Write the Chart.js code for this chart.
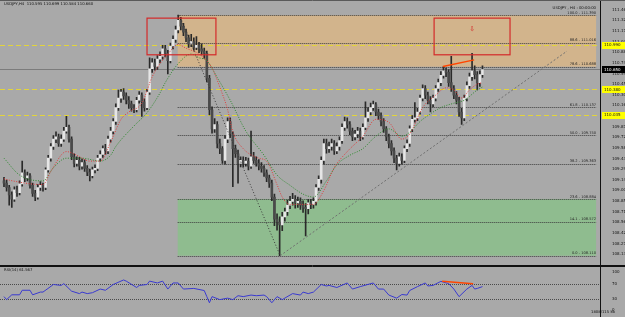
<!DOCTYPE html>
<html>
<head>
<meta charset="utf-8">
<script src="https://cdn.jsdelivr.net/npm/chart.js@4.4.0/dist/chart.umd.min.js"></script>
<style>
  html, body { margin: 0; padding: 0; background: #a9a9a9; overflow: hidden; }
  #wrap { position: relative; width: 625px; height: 317px; }
  canvas { position: absolute; left: 0; }
  #main { top: 0; }
  #rsi { top: 266px; }
</style>
</head>
<body>
<div id="wrap">
  <canvas id="main" width="625" height="266"></canvas>
  <canvas id="rsi" width="625" height="51"></canvas>
</div>
<script>
// USDJPY H4, 4 May 2018 00:00 .. 15 Jun 2018 16:00 (one entry per bar)
const firstOpen = 109.13;
const closes = [
  109.10,109.04,108.94,108.88,109.01,108.97,109.09,109.24,109.17,109.20,
  109.07,108.96,108.91,109.04,109.07,109.04,109.28,109.44,109.60,109.70,
  109.73,109.64,109.70,109.81,109.86,109.70,109.46,109.37,109.41,109.33,
  109.38,109.30,109.25,109.20,109.28,109.30,109.44,109.49,109.57,109.54,
  109.70,109.81,109.94,110.13,110.26,110.34,110.29,110.23,110.18,110.13,
  110.10,110.23,110.30,110.21,110.13,110.34,110.66,110.74,110.69,110.79,
  110.83,110.93,110.87,110.77,110.97,111.06,111.19,111.32,111.24,111.16,
  111.08,111.00,111.03,110.95,110.98,110.93,110.90,110.87,110.53,110.10,
  109.84,109.90,109.64,109.57,109.41,109.70,109.94,109.77,109.57,109.50,
  109.37,109.41,109.37,109.40,109.33,109.46,109.41,109.37,109.33,109.30,
  109.24,109.17,109.10,108.91,108.61,108.57,108.53,108.64,108.71,108.80,
  108.85,108.88,108.83,108.85,108.80,108.77,108.75,108.83,108.81,108.85,
  109.04,109.15,109.41,109.64,109.57,109.60,109.64,109.54,109.60,109.68,
  109.86,109.94,109.90,109.81,109.73,109.77,109.81,109.73,109.86,109.99,
  110.07,110.13,110.17,110.07,110.02,109.94,109.84,109.73,109.64,109.54,
  109.44,109.37,109.46,109.41,109.57,109.64,109.84,109.97,109.99,110.07,
  110.26,110.39,110.30,110.23,110.18,110.26,110.39,110.47,110.57,110.63,
  110.61,110.47,110.39,110.30,110.23,110.07,109.99,110.26,110.43,110.55,
  110.63,110.58,110.47,110.58,110.65
];
const highs = [
  109.18,109.14,109.07,108.98,109.05,109.06,109.13,109.40,109.28,109.25,
  109.23,109.10,109.00,109.08,109.12,109.10,109.31,109.48,109.64,109.75,
  109.80,109.77,109.76,109.86,110.01,109.89,109.73,109.50,109.46,109.45,
  109.43,109.42,109.34,109.29,109.32,109.35,109.48,109.54,109.61,109.63,
  109.74,109.86,109.98,110.18,110.37,110.38,110.39,110.33,110.28,110.22,
  110.17,110.27,110.35,110.33,110.25,110.38,110.81,110.80,110.79,110.84,
  110.89,110.98,110.98,110.91,111.01,111.11,111.24,111.39,111.36,111.28,
  111.20,111.12,111.13,111.08,111.10,111.02,111.00,110.94,110.90,110.57,
  110.14,109.98,109.94,109.70,109.60,109.75,109.99,109.99,109.80,109.62,
  109.55,109.46,109.46,109.45,109.44,109.81,109.52,109.46,109.42,109.38,
  109.34,109.28,109.21,109.14,108.95,108.68,108.64,108.70,108.76,108.87,
  108.92,108.96,108.93,108.91,108.90,108.86,108.82,108.88,108.88,108.90,
  109.08,109.20,109.46,109.70,109.70,109.66,109.70,109.68,109.65,109.73,
  109.91,110.00,109.99,109.94,109.85,109.82,109.86,109.85,109.91,110.21,
  110.13,110.19,110.22,110.20,110.11,110.06,109.98,109.87,109.77,109.68,
  109.58,109.48,109.51,109.50,109.61,109.69,109.88,110.02,110.20,110.12,
  110.30,110.44,110.43,110.34,110.28,110.30,110.43,110.52,110.62,110.69,
  110.67,110.65,110.83,110.43,110.35,110.27,110.12,110.30,110.48,110.60,
  110.87,110.70,110.62,110.63,110.70
];
const lows = [
  109.05,108.99,108.80,108.77,108.85,108.92,108.94,109.06,109.12,109.13,
  109.03,108.92,108.86,108.88,109.00,108.99,109.01,109.25,109.40,109.56,
  109.65,109.60,109.60,109.67,109.78,109.66,109.42,109.32,109.33,109.28,
  109.29,109.26,109.20,109.13,109.17,109.24,109.27,109.40,109.45,109.49,
  109.50,109.66,109.77,109.90,110.09,110.20,110.24,110.18,110.12,110.08,
  110.06,110.07,110.19,110.01,110.08,110.10,110.31,110.61,110.64,110.65,
  110.74,110.79,110.82,110.59,110.74,110.93,111.02,111.15,111.19,111.11,
  111.03,110.95,110.96,110.91,110.92,110.88,110.85,110.80,110.48,110.03,
  109.78,109.79,109.58,109.50,109.37,109.36,109.65,109.72,109.05,109.45,
  109.10,109.32,109.32,109.33,109.28,109.30,109.37,109.33,109.28,109.25,
  109.19,109.12,109.04,108.86,108.52,108.46,108.11,108.45,108.58,108.66,
  108.75,108.80,108.76,108.77,108.74,108.70,108.38,108.68,108.75,108.76,
  108.80,109.00,109.10,109.36,109.51,109.52,109.55,109.49,109.50,109.55,
  109.64,109.82,109.85,109.76,109.68,109.69,109.72,109.68,109.70,109.83,
  109.94,110.03,110.09,110.02,109.97,109.88,109.79,109.68,109.58,109.48,
  109.38,109.28,109.33,109.36,109.38,109.53,109.60,109.80,109.93,109.95,
  110.04,110.22,110.25,110.18,110.07,110.14,110.22,110.35,110.43,110.53,
  110.55,110.42,110.35,110.25,110.18,110.01,109.90,109.95,110.22,110.39,
  110.50,110.52,110.37,110.42,110.54
];
const opens = closes.map((c, i) => (i === 0 ? firstOpen : closes[i - 1]));

// moving averages (bar index, price)
const redMaBars = [0,2,15,18,24,28,33,37,41,45,48,53,57,60,63,67,70,75,80,83,86,88,92,98,101,105,107,110,115,119,123,127,132,138,143,148,153,156,161,166,170,173,176,179,182,184];
const redMaVals = [109.16,109.14,109.08,109.26,109.53,109.48,109.40,109.40,109.66,109.97,110.07,110.19,110.55,110.73,110.86,110.99,110.94,110.86,110.67,110.41,110.10,109.80,109.57,109.44,109.40,109.08,108.91,108.81,108.81,108.81,109.00,109.31,109.53,109.74,109.97,109.93,109.70,109.77,110.13,110.30,110.40,110.37,110.26,110.37,110.45,110.47];
const greenMaBars = [0,6,15,19,24,30,37,41,43,50,55,60,62,67,72,75,78,82,87,93,100,105,110,115,119,124,128,133,138,143,148,153,161,168,173,177,182,184];
const greenMaVals = [109.44,109.21,109.13,109.31,109.44,109.44,109.40,109.48,109.60,109.88,110.06,110.33,110.47,110.73,110.86,110.81,110.77,110.54,110.23,109.81,109.48,109.21,109.07,108.95,108.91,109.13,109.35,109.48,109.57,109.74,109.84,109.74,109.97,110.13,110.19,110.23,110.37,110.41];

// RSI(14)
const rsiBars = [0,1,3,6,7,10,11,14,15,19,22,23,26,29,30,32,34,37,39,42,46,47,51,52,55,56,59,61,63,65,67,69,73,77,78,79,80,83,86,88,90,92,95,97,100,101,103,105,107,110,111,114,115,117,119,122,124,125,128,132,134,137,142,144,146,148,151,153,155,156,159,162,163,165,168,171,173,175,178,180,181,182,184];
const rsiVals = [35.6,27.6,40.4,40.4,52.5,52.5,40.4,47.7,47.7,67.8,65.4,70.2,50.1,43.6,47.7,43.6,46,55.7,52.5,67.8,79.9,76.8,59.8,65.4,67.8,76.8,71.9,76.8,55.7,71.9,71.9,55.7,57.4,51.8,35.6,19.3,35.6,27.6,31.5,27.6,38,35.6,39.7,38,39.7,35.6,19.3,35.6,27.6,39.7,43.6,39.7,47.7,43.6,47.7,67.8,63.9,65.4,59.8,71.9,55.7,62.2,71.9,55.7,55.7,39.7,31.5,41.2,39.7,51.8,62.2,71.9,63.9,65.4,76.1,70.2,55.7,35.6,55.7,65.4,55.7,57.4,62.2];
const rsiLevels = [70, 30];
const rsiTicks = [100, 70, 30, 0];

// axis labels
const dateLabels = ['4 May 2018','7 May 08:00','8 May 16:00','10 May 00:00','11 May 08:00','14 May 16:00','16 May 00:00','17 May 08:00','18 May 16:00','22 May 00:00','23 May 08:00','24 May 16:00','28 May 00:00','29 May 08:00','30 May 16:00','1 Jun 00:00','4 Jun 08:00','5 Jun 16:00','7 Jun 00:00','8 Jun 08:00','11 Jun 16:00','13 Jun 00:00','14 Jun 08:00','15 Jun 16:00'];
const priceTicks = [111.465,111.320,111.175,111.030,110.885,110.740,110.595,110.450,110.305,110.160,110.015,109.870,109.725,109.580,109.435,109.290,109.145,109.000,108.855,108.710,108.565,108.420,108.275,108.130];

// drawing objects
const fibLevels = [100.0, 88.6, 78.6, 61.8, 50.0, 38.2, 23.6, 14.1, 0.0];
const fibHigh = 111.39, fibLow = 108.11;
const fibBars = [66.8, 227.7];
const fibAnchorBars = [67.3, 106.2];
const trendBars = [106.2, 216.5];
const trendPrices = [108.11, 110.90];
const divBars = [168.8, 180.8];
const divPrices = [110.69, 110.78];
const rsiDivBars = [168.5, 180.4];
const rsiDivVals = [76.6, 70.0];
const yellowLevels = [110.99, 110.38, 110.035];
const boxBars = [[55.0, 81.5], [165.4, 194.6]];
const boxPrices = [111.35, 110.85];

const X_MIN = -0.77, X_MAX = 229.2;
const FONT = 'DejaVu Sans';
const fibPrice = p => fibLow + (fibHigh - fibLow) * p / 100;
const bars = closes.map((_, i) => i);

function hline(ctx, x0, x1, y, color, dash) {
  ctx.beginPath();
  ctx.strokeStyle = color;
  ctx.lineWidth = 1;
  ctx.setLineDash(dash || []);
  ctx.moveTo(x0, Math.round(y) + 0.5);
  ctx.lineTo(x1, Math.round(y) + 0.5);
  ctx.stroke();
  ctx.setLineDash([]);
}

function sideBox(ctx, y, text, bg, fg) {
  ctx.fillStyle = bg;
  ctx.fillRect(602, Math.round(y) - 3, 23, 7);
  ctx.fillStyle = fg;
  ctx.font = '4px ' + FONT;
  ctx.textAlign = 'left';
  ctx.textBaseline = 'middle';
  ctx.fillText(text, 604, y + 0.5);
}

const mainDecor = {
  id: 'mainDecor',
  beforeDatasetsDraw(chart) {
    const { ctx, chartArea: a, scales: { x, y } } = chart;
    ctx.save();
    const zx0 = x.getPixelForValue(fibBars[0]);
    const zx1 = x.getPixelForValue(fibBars[1]);
    // supply / demand zones
    const upTop = y.getPixelForValue(fibPrice(100)), upBot = y.getPixelForValue(fibPrice(78.6));
    ctx.fillStyle = '#d2b48c';
    ctx.fillRect(zx0, upTop, zx1 - zx0, upBot - upTop);
    const dnTop = y.getPixelForValue(fibPrice(23.6)), dnBot = y.getPixelForValue(fibPrice(0));
    ctx.fillStyle = '#8fbc8f';
    ctx.fillRect(zx0, dnTop, zx1 - zx0, dnBot - dnTop);
    // fibonacci levels
    fibLevels.forEach(p => hline(ctx, zx0, zx1, y.getPixelForValue(fibPrice(p)), '#3c3c3c', [1, 1]));
    // yellow levels and bid line
    yellowLevels.forEach(v => hline(ctx, 0, a.right, y.getPixelForValue(v), '#e2d43a', [5, 3]));
    hline(ctx, 0, a.right, y.getPixelForValue(closes[closes.length - 1]), '#7c7c7c');
    ctx.restore();
  },
  afterDatasetsDraw(chart) {
    const { ctx, chartArea: a, scales: { x, y } } = chart;
    ctx.save();
    // red boxes
    ctx.strokeStyle = '#d42a2a';
    ctx.lineWidth = 1.2;
    boxBars.forEach(([b0, b1]) => {
      const x0 = x.getPixelForValue(b0), x1 = x.getPixelForValue(b1);
      const y0 = y.getPixelForValue(boxPrices[0]), y1 = y.getPixelForValue(boxPrices[1]);
      ctx.strokeRect(x0, y0, x1 - x0, y1 - y0);
    });
    ctx.fillStyle = '#d42a2a';
    ctx.font = '7px ' + FONT;
    ctx.textAlign = 'center';
    ctx.textBaseline = 'middle';
    ctx.fillText('\u21E9', x.getPixelForValue(180), y.getPixelForValue(111.2));
    // fib labels
    ctx.fillStyle = '#262626';
    ctx.font = '3.6px ' + FONT;
    ctx.textAlign = 'right';
    ctx.textBaseline = 'bottom';
    const lx = x.getPixelForValue(fibBars[1]);
    fibLevels.forEach(p => {
      ctx.fillText(p.toFixed(1) + ' - ' + fibPrice(p).toFixed(3), lx, y.getPixelForValue(fibPrice(p)) - 0.5);
    });
    // header texts
    ctx.fillStyle = '#111';
    ctx.font = '3.8px ' + FONT;
    ctx.textAlign = 'left';
    ctx.textBaseline = 'middle';
    ctx.fillText('USDJPY,H4  110.595 110.699 110.584 110.660', 4, 4.5);
    ctx.textAlign = 'right';
    ctx.fillText('USDJPY , H4 : 00:00:00', 596, 8);
    ctx.restore();
  },
  afterDraw(chart) {
    const { ctx, chartArea: a, scales: { y } } = chart;
    ctx.save();
    ctx.strokeStyle = '#111';
    ctx.lineWidth = 1;
    ctx.beginPath();
    ctx.moveTo(a.right + 0.5, 0);
    ctx.lineTo(a.right + 0.5, 266);
    ctx.stroke();
    hline(ctx, 0, 625, 0, '#5a5a5a');
    hline(ctx, 0, 625, 265, '#111');
    yellowLevels.forEach(v => sideBox(ctx, y.getPixelForValue(v), v.toFixed(3), '#ffff00', '#111'));
    const last = closes[closes.length - 1];
    sideBox(ctx, y.getPixelForValue(last), last.toFixed(3), '#000', '#fff');
    ctx.restore();
  }
};

new Chart(document.getElementById('main'), {
  type: 'bar',
  data: {
    datasets: [
      {
        type: 'line', order: 0, data: divBars.map((b, k) => ({ x: b, y: divPrices[k] })),
        borderColor: '#ff4500', borderWidth: 1.4, pointRadius: 0
      },
      {
        type: 'line', order: 0, data: fibAnchorBars.map((b, k) => ({ x: b, y: k ? fibLow : fibHigh })),
        borderColor: '#3a3a3a', borderWidth: 1, borderDash: [1, 2], pointRadius: 0
      },
      {
        type: 'line', order: 0, data: trendBars.map((b, k) => ({ x: b, y: trendPrices[k] })),
        borderColor: '#707070', borderWidth: 1, borderDash: [2, 2], pointRadius: 0
      },
      {
        type: 'line', order: 1, data: redMaBars.map((b, k) => ({ x: b, y: redMaVals[k] })),
        borderColor: '#e03c3c', borderWidth: 1, borderDash: [1, 1.5], pointRadius: 0,
        cubicInterpolationMode: 'monotone'
      },
      {
        type: 'line', order: 1, data: greenMaBars.map((b, k) => ({ x: b, y: greenMaVals[k] })),
        borderColor: '#2e8b2e', borderWidth: 1, borderDash: [1, 1.5], pointRadius: 0,
        cubicInterpolationMode: 'monotone'
      },
      {
        order: 2, grouped: false, barThickness: 2, minBarLength: 1,
        data: bars.map(i => ({ x: i, y: [opens[i], closes[i]] })),
        backgroundColor: bars.map(i => (closes[i] >= opens[i] ? '#e6e6e6' : '#4a4a4a'))
      },
      {
        order: 3, grouped: false, barThickness: 1,
        data: bars.map(i => ({ x: i, y: [lows[i], highs[i]] })),
        backgroundColor: '#2a2a2a'
      }
    ]
  },
  options: {
    responsive: false,
    animation: false,
    events: [],
    layout: { padding: { top: 4, bottom: 2, left: 2, right: 0 } },
    plugins: { legend: { display: false }, tooltip: { enabled: false } },
    scales: {
      x: {
        type: 'linear', min: X_MIN, max: X_MAX, offset: false, display: false,
        grid: { display: false }
      },
      y: {
        position: 'right', min: 108.057, max: 111.51,
        grid: { display: false }, border: { display: false },
        afterBuildTicks: s => { s.ticks = priceTicks.map(v => ({ value: v })); },
        afterFit: s => { s.width = 25; },
        ticks: {
          autoSkip: false, padding: 4, color: '#111',
          font: { family: FONT, size: 4 },
          callback: v => Number(v).toFixed(3)
        }
      }
    }
  },
  plugins: [mainDecor]
});

const rsiDecor = {
  id: 'rsiDecor',
  beforeDatasetsDraw(chart) {
    const { ctx, chartArea: a, scales: { y } } = chart;
    ctx.save();
    rsiLevels.forEach(v => hline(ctx, 0, a.right, y.getPixelForValue(v), '#4a4a4a', [1, 1]));
    ctx.restore();
  },
  afterDraw(chart) {
    const { ctx, chartArea: a } = chart;
    ctx.save();
    hline(ctx, 0, 625, 0, '#111');
    ctx.strokeStyle = '#111';
    ctx.beginPath();
    ctx.moveTo(a.right + 0.5, 0);
    ctx.lineTo(a.right + 0.5, 51);
    ctx.stroke();
    ctx.fillStyle = '#111';
    ctx.font = '3.8px ' + FONT;
    ctx.textAlign = 'left';
    ctx.textBaseline = 'middle';
    ctx.fillText('RSI(14) 61.567', 4, 4.5);
    ctx.textAlign = 'right';
    ctx.fillText('1808/115 kb', 615, 46.5);
    ctx.restore();
  }
};

new Chart(document.getElementById('rsi'), {
  type: 'line',
  data: {
    datasets: [
      {
        data: rsiDivBars.map((b, k) => ({ x: b, y: rsiDivVals[k] })),
        borderColor: '#ff4500', borderWidth: 1.4, pointRadius: 0
      },
      {
        data: rsiBars.map((b, k) => ({ x: b, y: rsiVals[k] })),
        borderColor: '#3a3ad0', borderWidth: 1, pointRadius: 0
      }
    ]
  },
  options: {
    responsive: false,
    animation: false,
    events: [],
    layout: { padding: { top: 2.4, bottom: 0, left: 2, right: 0 } },
    plugins: { legend: { display: false }, tooltip: { enabled: false } },
    scales: {
      x: {
        type: 'linear', min: X_MIN, max: X_MAX, offset: false,
        grid: { display: false }, border: { display: false },
        afterBuildTicks: s => { s.ticks = dateLabels.map((_, k) => ({ value: k * 8 })); },
        afterFit: s => { s.height = 7; },
        ticks: {
          autoSkip: false, maxRotation: 0, align: 'start', padding: 1, color: '#111',
          font: { family: FONT, size: 3.6 },
          callback: (v, idx) => dateLabels[idx]
        }
      },
      y: {
        position: 'right', min: 0, max: 100,
        grid: { display: false }, border: { display: false },
        afterBuildTicks: s => { s.ticks = rsiTicks.map(v => ({ value: v })); },
        afterFit: s => { s.width = 25; },
        ticks: { autoSkip: false, padding: 4, color: '#111', font: { family: FONT, size: 4 } }
      }
    }
  },
  plugins: [rsiDecor]
});
</script>
</body>
</html>
